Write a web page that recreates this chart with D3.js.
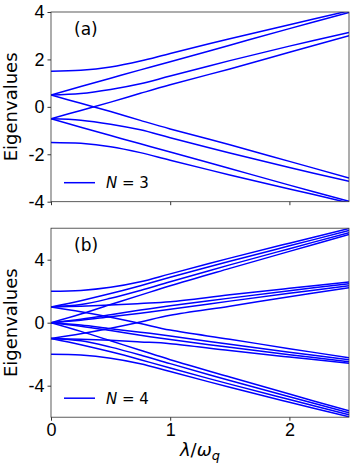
<!DOCTYPE html>
<html>
<head>
<meta charset="utf-8">
<script src="https://cdn.jsdelivr.net/npm/d3@7"></script>
<style>
  body { margin: 0; background: #fff; }
  svg { font-family: "DejaVu Sans", sans-serif; }
</style>
</head>
<body>
<div id="chart"></div>
<script>
////////// data /////////
// coupling grid (lambda / omega_q) where the levels were read off
var lam = [0, 0.25, 0.5, 0.75, 1, 1.5, 2, 2.5];

// N = 3 : eight eigenvalue branches
var n3_levels = [
  [1.5, 1.54, 1.68, 1.93, 2.25, 2.87, 3.46, 4.05],
  [0.5, 0.86, 1.21, 1.56, 1.9, 2.6, 3.3, 3.98],
  [0.5, 0.56, 0.73, 0.97, 1.3, 1.95, 2.56, 3.14],
  [-0.5, -0.15, 0.2, 0.57, 0.93, 1.6, 2.3, 3.0],
  [0.5, 0.15, -0.2, -0.57, -0.93, -1.6, -2.3, -3.0],
  [-0.5, -0.56, -0.73, -0.97, -1.3, -1.95, -2.56, -3.14],
  [-0.5, -0.86, -1.21, -1.56, -1.9, -2.6, -3.3, -3.98],
  [-1.5, -1.54, -1.68, -1.93, -2.25, -2.87, -3.46, -4.05]
];

// N = 4 : sixteen eigenvalue branches
var n4_levels = [
  [2, 2.05, 2.25, 2.6, 3.1, 4.1, 5.05, 5.98],
  [1, 1.4, 1.85, 2.35, 2.88, 3.9, 4.88, 5.85],
  [1, 1.15, 1.55, 2.05, 2.6, 3.67, 4.7, 5.72],
  [0, 0.55, 1.15, 1.75, 2.35, 3.45, 4.53, 5.6],
  [1, 1.05, 1.12, 1.22, 1.33, 1.77, 2.18, 2.58],
  [0, 0.22, 0.5, 0.8, 1.07, 1.56, 2.03, 2.48],
  [0, 0.15, 0.38, 0.6, 0.85, 1.37, 1.87, 2.35],
  [-1, -0.7, -0.35, 0.05, 0.47, 1.05, 1.65, 2.22],
  [1, 0.7, 0.35, -0.05, -0.47, -1.05, -1.65, -2.22],
  [0, -0.15, -0.38, -0.6, -0.85, -1.37, -1.87, -2.35],
  [0, -0.22, -0.5, -0.8, -1.07, -1.56, -2.03, -2.48],
  [-1, -1.05, -1.12, -1.22, -1.33, -1.77, -2.18, -2.58],
  [0, -0.55, -1.15, -1.75, -2.35, -3.45, -4.53, -5.6],
  [-1, -1.15, -1.55, -2.05, -2.6, -3.67, -4.7, -5.72],
  [-1, -1.4, -1.85, -2.35, -2.88, -3.9, -4.88, -5.85],
  [-2, -2.05, -2.25, -2.6, -3.1, -4.1, -5.05, -5.98]
];

var x_ticks = [0, 1, 2];
var a_ticks = [-4, -2, 0, 2, 4];
var b_ticks = [-4, 0, 4];

////////// svg /////////
var svg = d3.select('#chart').append('svg')
  .attr('width', 355)
  .attr('height', 473);

var x = d3.scaleLinear().domain([0, 2.5]).range([51, 349]);

function panel(id, levels, yDomain, yRange, yTicks, tag, legendText) {
  var y = d3.scaleLinear().domain(yDomain).range(yRange);
  var g = svg.append('g').attr('id', id);

  g.append('clipPath').attr('id', id + '_clip')
    .append('rect')
    .attr('x', x(0)).attr('y', yRange[1])
    .attr('width', x(2.5) - x(0)).attr('height', yRange[0] - yRange[1]);

  var line = d3.line()
    .x(function(d, i) { return x(lam[i]); })
    .y(function(d) { return y(d); })
    .curve(d3.curveCatmullRom.alpha(0.5));

  g.append('g').attr('clip-path', 'url(#' + id + '_clip)')
    .selectAll('path')
    .data(levels)
    .enter().append('path')
    .attr('d', line)
    .style('fill', 'none')
    .style('stroke', '#0000ff')
    .style('stroke-width', 1.5);

  // y axis
  var ya = g.append('g')
    .attr('transform', 'translate(' + x(0) + ',0)')
    .call(d3.axisLeft(y).tickValues(yTicks).tickSize(3.5).tickPadding(3)
      .tickFormat(function(d) { return d < 0 ? '-' + Math.abs(d) : d; }));
  ya.select('.domain').remove();
  ya.selectAll('text').style('font-size', '18px').style('fill', '#000');
  ya.selectAll('line').style('stroke', '#333');

  // x axis
  var xa = g.append('g')
    .attr('transform', 'translate(0,' + yRange[0] + ')')
    .call(d3.axisBottom(x).tickValues(x_ticks).tickSize(3.5).tickPadding(3)
      .tickFormat(d3.format('d')));
  xa.select('.domain').remove();
  xa.selectAll('text').style('font-size', '18px').style('fill', '#000');
  xa.selectAll('line').style('stroke', '#333');
  if (id === 'a') xa.selectAll('text').remove();

  // frame
  g.append('rect')
    .attr('x', x(0)).attr('y', yRange[1])
    .attr('width', x(2.5) - x(0)).attr('height', yRange[0] - yRange[1])
    .style('fill', 'none')
    .style('stroke', '#333')
    .style('stroke-width', 0.8);

  g.append('text')
    .attr('x', 74).attr('y', yRange[1] + 23)
    .style('font-size', '17px')
    .text(tag);

  // legend
  var ly = yRange[0] - 19;
  g.append('line')
    .attr('x1', 64).attr('x2', 95)
    .attr('y1', ly).attr('y2', ly)
    .style('stroke', '#0000ff')
    .style('stroke-width', 1.5);
  var lt = g.append('text')
    .attr('x', 106).attr('y', ly + 5.5)
    .style('font-size', '15px');
  lt.append('tspan').style('font-style', 'italic').text('N');
  lt.append('tspan').text(' = ' + legendText);

  // y label
  g.append('text')
    .attr('transform', 'translate(17,' + (yRange[0] + yRange[1]) / 2 + ') rotate(-90)')
    .attr('text-anchor', 'middle')
    .style('font-size', '18px')
    .text('Eigenvalues');
}

panel('a', n3_levels, [-4, 4], [201.7, 12], a_ticks, '(a)', '3');
panel('b', n4_levels, [-6, 6], [417.2, 228.2], b_ticks, '(b)', '4');

// x label
var xl = svg.append('text')
  .attr('x', 200).attr('y', 456)
  .attr('text-anchor', 'middle')
  .style('font-size', '18px');
xl.append('tspan').style('font-style', 'italic').text('\u03bb');
xl.append('tspan').text('/');
xl.append('tspan').style('font-style', 'italic').text('\u03c9');
xl.append('tspan').attr('dy', 4).style('font-size', '13px').style('font-style', 'italic').text('q');
</script>
</body>
</html>
